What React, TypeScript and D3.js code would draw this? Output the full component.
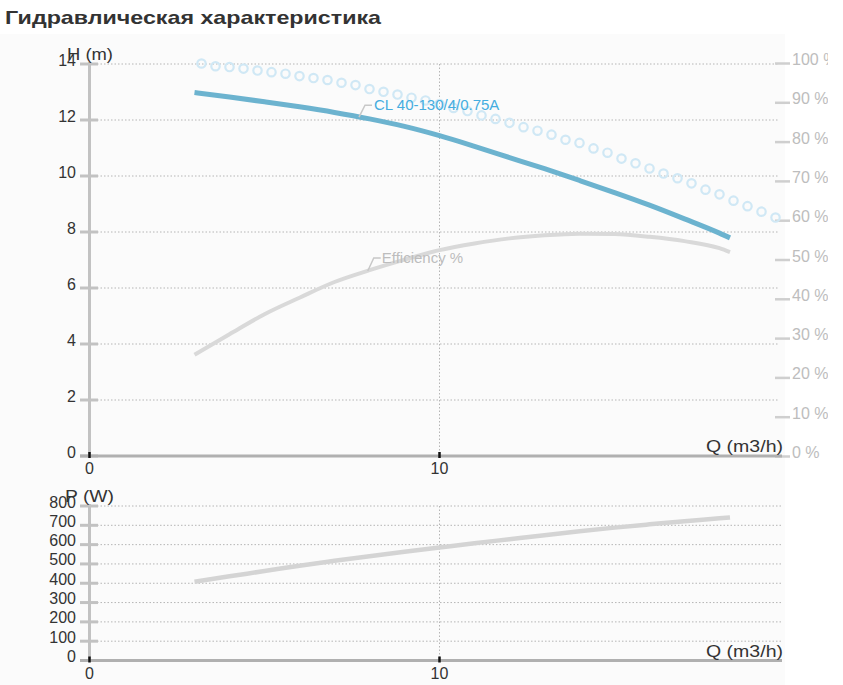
import * as d3 from 'd3';

// pump curve samples
const flow = [3, 4, 5, 6, 7, 8, 9, 10, 11, 12, 13, 14, 15, 16, 17, 18, 18.3];
const head = [12.98, 12.82, 12.65, 12.47, 12.27, 12.04, 11.77, 11.44, 11.06, 10.66, 10.26, 9.84, 9.41, 8.96, 8.47, 7.96, 7.79];
const efficiency = [25.9, 31.1, 36.2, 40.4, 44.4, 47.4, 50.1, 52.5, 54.2, 55.5, 56.3, 56.7, 56.6, 55.9, 54.8, 53.0, 52.0];
const power = [408, 436, 463, 491, 516, 540, 563, 585, 607, 628, 649, 669, 688, 705, 721, 736, 741];

// dotted (circle) series
const dotFlow = [3.2, 3.6, 4.0, 4.4, 4.8, 5.2, 5.6, 6.0, 6.4, 6.8, 7.2, 7.6, 8.0, 8.4, 8.8, 9.2, 9.6, 10.0, 10.4, 10.8, 11.2, 11.6, 12.0, 12.4, 12.8, 13.2, 13.6, 14.0, 14.4, 14.8, 15.2, 15.6, 16.0, 16.4, 16.8, 17.2, 17.6, 18.0, 18.4, 18.8, 19.2, 19.6];
const dotPct = [100.0, 99.3, 99.1, 98.7, 98.2, 97.8, 97.4, 96.8, 96.3, 95.8, 95.1, 94.5, 93.5, 92.8, 92.1, 91.3, 90.6, 89.7, 88.7, 87.9, 86.8, 85.9, 84.9, 83.8, 82.9, 81.9, 80.6, 79.8, 78.4, 77.3, 75.8, 74.6, 73.3, 72.0, 70.8, 69.5, 67.9, 66.7, 65.1, 63.7, 62.3, 60.8];

const hTicks = [0, 2, 4, 6, 8, 10, 12, 14];
const pctTicks = [0, 10, 20, 30, 40, 50, 60, 70, 80, 90, 100];
const pTicks = [0, 100, 200, 300, 400, 500, 600, 700, 800];
const qTicks = [0, 10];

const W = 828;
const H = 685;
const font = '"Liberation Sans", Arial, sans-serif';
const axisGrey = '#c2c2c2';
const gridGrey = '#b5b5b5';

export default function App() {
  const x = d3.scaleLinear().domain([0, 10]).range([89.5, 439.5]);
  const xEnd = 782;
  const yH = d3.scaleLinear().domain([0, 14]).range([456, 64]);
  const yPct = d3.scaleLinear().domain([0, 100]).range([456.5, 63.5]);
  const yP = d3.scaleLinear().domain([0, 800]).range([660.5, 506]);

  const headLine = d3
    .line<number>()
    .x((_, i) => x(flow[i]))
    .y((d) => yH(d))
    .curve(d3.curveMonotoneX);
  const effLine = d3
    .line<number>()
    .x((_, i) => x(flow[i]))
    .y((d) => yPct(d))
    .curve(d3.curveMonotoneX);
  const powerLine = d3
    .line<number>()
    .x((_, i) => x(flow[i]))
    .y((d) => yP(d))
    .curve(d3.curveMonotoneX);

  // label anchors on the curves
  const headAnchor = [x(7.7), yH(12.1)];
  const effAnchor = [x(7.95), yPct(47.2)];

  const xAxis = (y0: number, yTop: number, labelY: number) => (
    <g>
      <line x1={x(10)} x2={x(10)} y1={yTop} y2={y0} stroke={gridGrey} strokeDasharray="1.5,2" />
      <line x1={80} x2={xEnd} y1={y0} y2={y0} stroke="#b0b0b0" strokeWidth={3} />
      {qTicks.map((q) => (
        <g key={q}>
          <line x1={x(q)} x2={x(q)} y1={y0 - 4} y2={y0 + 2} stroke="#111" strokeWidth={2.5} />
          <text x={x(q)} y={labelY} textAnchor="middle" fontSize={16} fill="#333">
            {q}
          </text>
        </g>
      ))}
      <text x={xEnd - 76} y={y0 - 4} fontSize={17} fill="#333" textLength={77} lengthAdjust="spacingAndGlyphs">
        Q (m3/h)
      </text>
    </g>
  );

  return (
    <div style={{ position: 'absolute', left: 0, top: 0 }}>
      <svg width={W} height={H} style={{ display: 'block', fontFamily: font }}>
        <rect x={0} y={0} width={W} height={H} fill="#ffffff" />
        <rect x={0} y={34} width={785} height={H - 34} fill="#fbfbfb" />

        <text x={5} y={24} fontSize={19} fontWeight="bold" fill="#333" textLength={376} lengthAdjust="spacingAndGlyphs">
          Гидравлическая характеристика
        </text>

        {/* top chart: head / efficiency */}
        {hTicks.slice(1).map((t) => (
          <line key={t} x1={90} x2={778} y1={yH(t)} y2={yH(t)} stroke={gridGrey} strokeDasharray="1.5,2" />
        ))}
        <line x1={89.5} x2={89.5} y1={yH(14) - 2} y2={yH(0)} stroke={axisGrey} strokeWidth={3} />
        {hTicks.map((t) => (
          <g key={t}>
            <line x1={80} x2={98} y1={yH(t)} y2={yH(t)} stroke={axisGrey} strokeWidth={3} />
            <text x={76} y={yH(t) + 1.5} textAnchor="end" fontSize={16} fill="#333">
              {t}
            </text>
          </g>
        ))}
        <text x={67} y={60} fontSize={16} fill="#333" textLength={46} lengthAdjust="spacingAndGlyphs">
          H (m)
        </text>

        {pctTicks.map((t) => (
          <g key={t}>
            <line x1={775} x2={790} y1={yPct(t)} y2={yPct(t)} stroke="#cfcfcf" strokeWidth={2.5} />
            <text x={792} y={yPct(t) + 1.5} fontSize={16} fill="#bdbdbd">
              {t} %
            </text>
          </g>
        ))}

        {xAxis(yH(0), yH(14), 474)}

        <path d={effLine(efficiency) ?? ''} fill="none" stroke="#d9d9d9" strokeWidth={4} />
        <path d={headLine(head) ?? ''} fill="none" stroke="#6cb3cf" strokeWidth={5} />
        {dotPct.map((v, i) => (
          <circle key={i} cx={x(dotFlow[i])} cy={yPct(v)} r={4.2} fill="none" stroke="#d0e8f5" strokeWidth={2.2} />
        ))}

        <path
          d={`M${headAnchor[0]},${headAnchor[1]} L${headAnchor[0] + 6},${headAnchor[1] - 12} L${headAnchor[0] + 13},${headAnchor[1] - 12}`}
          fill="none"
          stroke="#c8c8c8"
          strokeWidth={1.5}
        />
        <text x={headAnchor[0] + 15} y={headAnchor[1] - 7} fontSize={15} fill="#45ade0">
          CL 40-130/4/0.75A
        </text>
        <path
          d={`M${effAnchor[0]},${effAnchor[1]} L${effAnchor[0] + 6},${effAnchor[1] - 13} L${effAnchor[0] + 13},${effAnchor[1] - 13}`}
          fill="none"
          stroke="#c8c8c8"
          strokeWidth={1.5}
        />
        <text x={effAnchor[0] + 14} y={effAnchor[1] - 8} fontSize={15} fill="#bdbdbd">
          Efficiency %
        </text>

        {/* bottom chart: power */}
        {pTicks.slice(1).map((t) => (
          <line key={t} x1={90} x2={xEnd} y1={yP(t)} y2={yP(t)} stroke={gridGrey} strokeDasharray="1.5,2" />
        ))}
        <line x1={89.5} x2={89.5} y1={yP(800) - 2} y2={yP(0)} stroke={axisGrey} strokeWidth={3} />
        {pTicks.map((t) => (
          <g key={t}>
            <line x1={80} x2={98} y1={yP(t)} y2={yP(t)} stroke={axisGrey} strokeWidth={3} />
            <text x={76} y={yP(t) + 1.5} textAnchor="end" fontSize={16} fill="#333">
              {t}
            </text>
          </g>
        ))}
        <text x={65} y={502} fontSize={16} fill="#333" textLength={49} lengthAdjust="spacingAndGlyphs">
          P (W)
        </text>
        {xAxis(yP(0), yP(800), 679)}
        <path d={powerLine(power) ?? ''} fill="none" stroke="#d4d4d4" strokeWidth={4.5} />
      </svg>
    </div>
  );
}
